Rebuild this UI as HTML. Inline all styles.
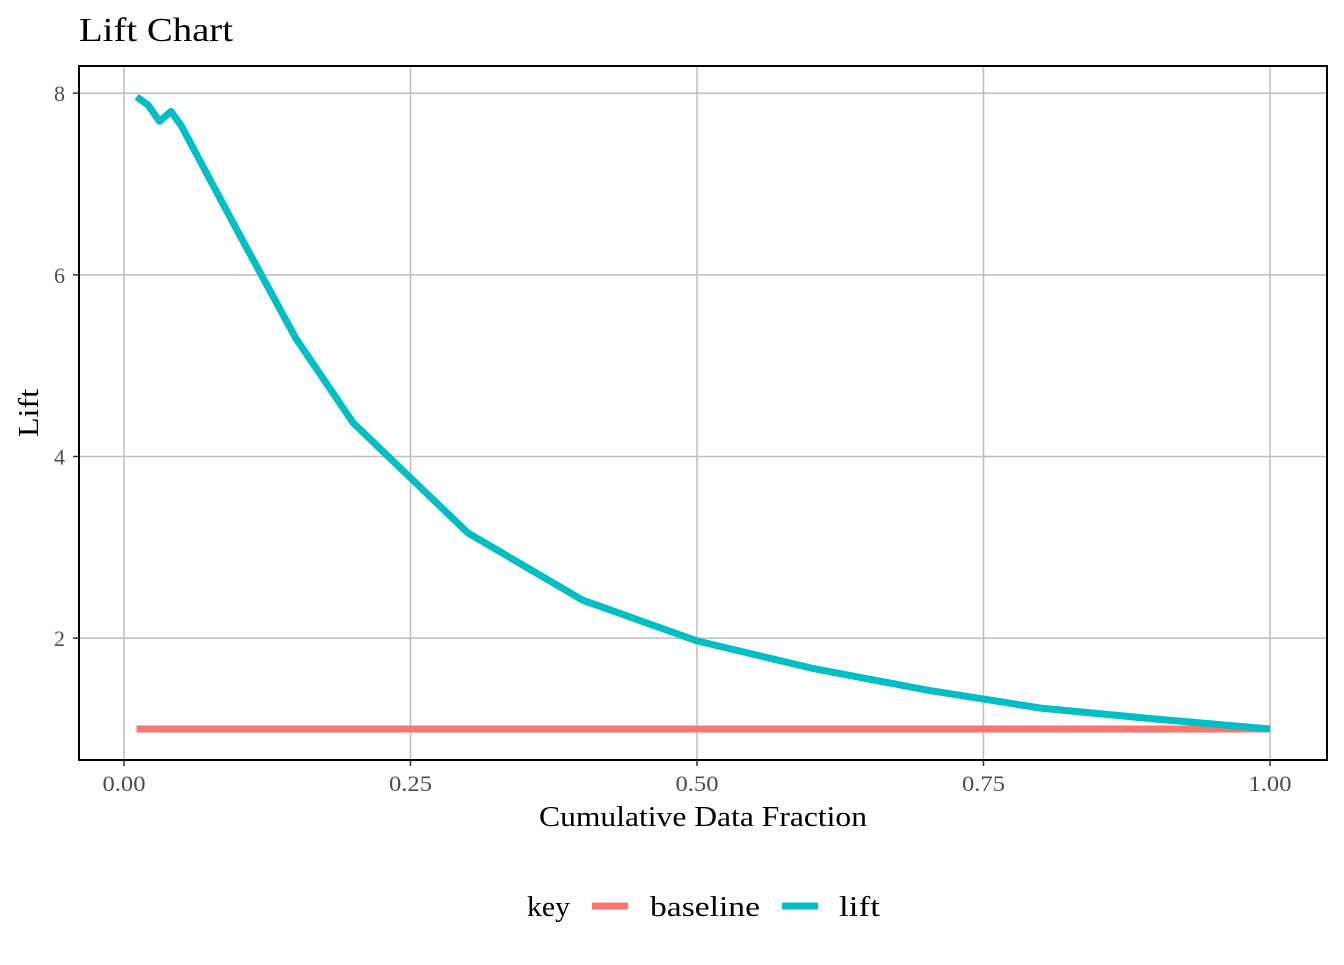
<!DOCTYPE html>
<html><head><meta charset="utf-8"><style>
body{margin:0;background:#fff;}
svg text{font-family:"Liberation Serif",serif;}
</style></head><body>
<svg width="1344" height="960" id="chart">
<text x="79" y="41" font-size="34" textLength="154" lengthAdjust="spacingAndGlyphs" fill="#000">Lift Chart</text>
<g id="grid"></g>
<g id="series"></g>
<rect x="79" y="66" width="1248" height="694" fill="none" stroke="#000" stroke-width="2"/>
<g id="axes"></g>
<text x="539" y="826" font-size="29" textLength="328" lengthAdjust="spacingAndGlyphs">Cumulative Data Fraction</text>
<text transform="translate(38,437) rotate(-90)" font-size="29" textLength="48" lengthAdjust="spacingAndGlyphs">Lift</text>
<g>
<text x="527" y="916" font-size="29" textLength="43" lengthAdjust="spacingAndGlyphs">key</text>
<line x1="592" y1="906" x2="628" y2="906" stroke="#F8766D" stroke-width="7"/>
<text x="650" y="916" font-size="29" textLength="110" lengthAdjust="spacingAndGlyphs">baseline</text>
<line x1="782" y1="906" x2="818" y2="906" stroke="#00BFC4" stroke-width="7"/>
<text x="839" y="916" font-size="29" textLength="41" lengthAdjust="spacingAndGlyphs">lift</text>
</g>
</svg>
<script>
const xTicks=[0,0.25,0.5,0.75,1];
const xTickLabels=["0.00","0.25","0.50","0.75","1.00"];
const yTicks=[2,4,6,8];
const yTickLabels=["2","4","6","8"];
const fracs=[0.011,0.021,0.031,0.041,0.05,0.1,0.15,0.2,0.3,0.4,0.5,0.6,0.7,0.8,0.9,1.0];
const liftVals=[7.96,7.87,7.69,7.8,7.64,6.46,5.3,4.37,3.16,2.42,1.97,1.67,1.43,1.23,1.11,1.0];
const baselineVals=[1,1,1,1,1,1,1,1,1,1,1,1,1,1,1,1];
const NS="http://www.w3.org/2000/svg";
const sx=v=>124+v*1146;
const sy=v=>729-(v-1)*90.83;
function mk(tag,attrs,parent){const e=document.createElementNS(NS,tag);for(const k in attrs)e.setAttribute(k,attrs[k]);parent.appendChild(e);return e;}
const grid=document.getElementById('grid'),axes=document.getElementById('axes'),series=document.getElementById('series');
xTicks.forEach((t,i)=>{
 const g=mk('line',{x1:sx(t),x2:sx(t),y1:66,y2:760,stroke:'#bebebe','stroke-width':1.5},grid);
 
 
 const tk=mk('line',{x1:sx(t),x2:sx(t),y1:760,y2:766,stroke:'#333','stroke-width':1.5},axes);
 
 
 const tx=mk('text',{x:sx(t)-21.5,y:791,'font-size':22,textLength:43,lengthAdjust:'spacingAndGlyphs',fill:'#4d4d4d'},axes);
 tx.textContent=xTickLabels[i];
 
 
});
yTicks.forEach((t,i)=>{
 const g=mk('line',{x1:79,x2:1327,y1:sy(t),y2:sy(t),stroke:'#bebebe','stroke-width':1.5},grid);
 
 
 const tk=mk('line',{x1:73,x2:79,y1:sy(t),y2:sy(t),stroke:'#333','stroke-width':1.5},axes);
 
 
 const tx=mk('text',{x:65,y:sy(t)+8,'font-size':22,'text-anchor':'end',fill:'#4d4d4d'},axes);
 tx.textContent=yTickLabels[i];
 
 
});
const bl=mk('polyline',{points:fracs.map((f,i)=>sx(f)+','+sy(baselineVals[i])).join(' '),fill:'none',stroke:'#F8766D','stroke-width':7},series);


const ll=mk('polyline',{points:fracs.map((f,i)=>sx(f)+','+sy(liftVals[i])).join(' '),fill:'none',stroke:'#00BFC4','stroke-width':7,'stroke-linejoin':'round'},series);


</script>
</body></html>
